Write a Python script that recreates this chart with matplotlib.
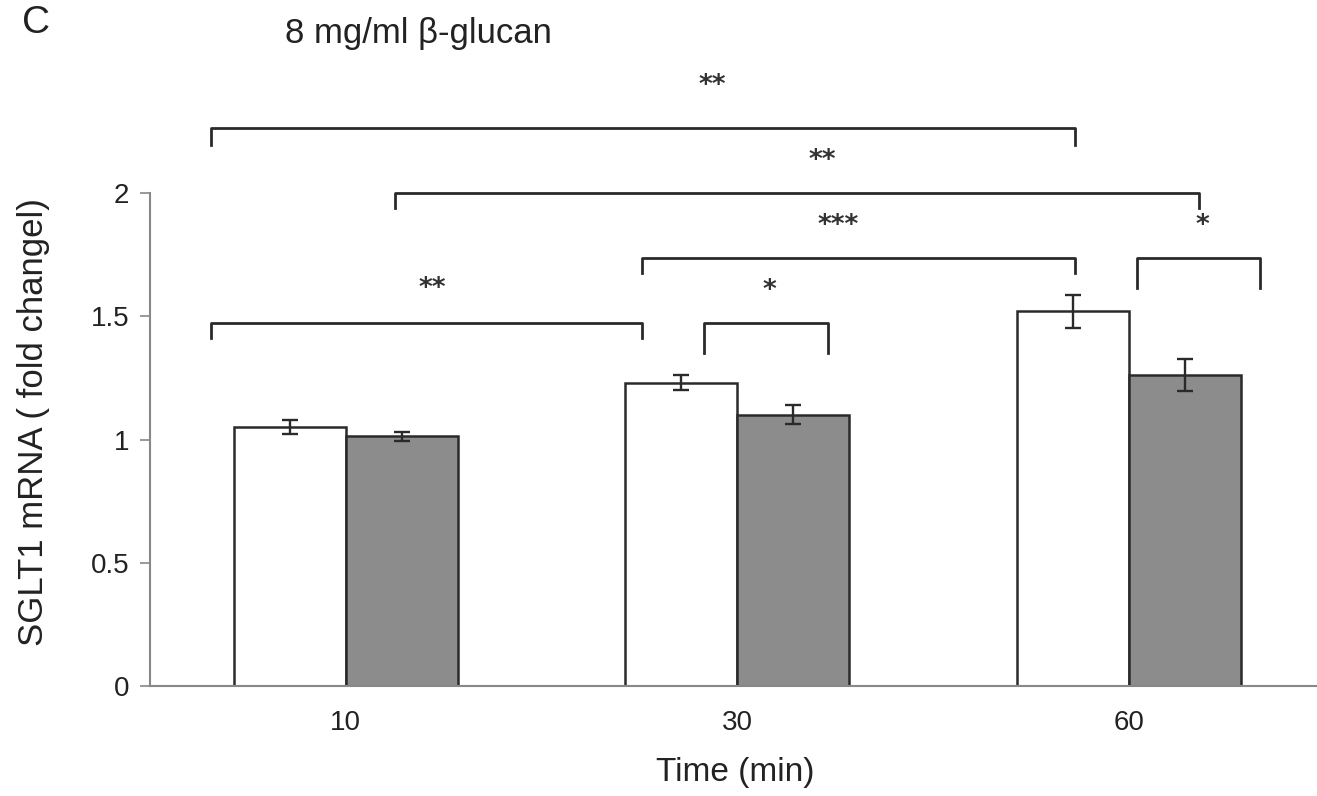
import matplotlib
matplotlib.use("Agg")
import matplotlib.pyplot as plt
import numpy as np

plt.rcParams['font.family'] = ['Liberation Sans', 'DejaVu Sans']

# data
times = ['10', '30', '60']
white_vals = [1.05, 1.23, 1.52]
white_err = [0.028, 0.030, 0.067]
gray_vals = [1.013, 1.10, 1.263]
gray_err = [0.018, 0.038, 0.065]

# significance brackets: (x left, x right, y top, y left end, y right end, label, label x, label y)
brackets = [
    (-0.345, 1.862, 2.262, 2.193, 2.193, '**', 0.935, 2.45),
    (0.127, 2.179, 2.000, 1.940, 1.940, '**', 1.218, 2.146),
    (0.757, 1.862, 1.738, 1.675, 1.675, '***', 1.259, 1.882),
    (2.020, 2.336, 1.738, 1.616, 1.616, '*', 2.189, 1.882),
    (-0.345, 0.757, 1.473, 1.410, 1.410, '**', 0.220, 1.625),
    (0.916, 1.231, 1.473, 1.350, 1.350, '*', 1.083, 1.619),
]

W, H = 1317, 796
fig = plt.figure(figsize=(W/100, H/100), dpi=100)
ax = fig.add_axes([150/W, 1-686/H, 1174.5/W, 493/H])

x = np.arange(len(times))
bw = 0.286
ekw = dict(elinewidth=1.7, capthick=1.7, ecolor='#2a2a2a')
ax.bar(x - bw/2, white_vals, bw, color='white', edgecolor='#2a2a2a', linewidth=1.8,
       yerr=white_err, capsize=5.5, error_kw=ekw, zorder=2)
ax.bar(x + bw/2, gray_vals, bw, color='#8c8c8c', edgecolor='#2a2a2a', linewidth=1.8,
       yerr=gray_err, capsize=5.5, error_kw=ekw, zorder=2)

for (x0, x1, yt, yl, yr, lab, lx, ly) in brackets:
    ax.plot([x0, x0, x1, x1], [yl, yt, yt, yr], color='#2a2a2a', lw=2,
            clip_on=False, solid_joinstyle='round')
    ax.annotate(lab, (lx, ly), xytext=(0, -4), textcoords='offset pixels',
                ha='center', va='center', fontsize=19, color='#333333',
                family='DejaVu Sans', fontweight='bold', annotation_clip=False)

ax.set_xlim(-0.5, 2.5)
ax.set_ylim(0, 2)
ax.set_yticks([0, 0.5, 1, 1.5, 2])
ax.set_yticklabels(['0', '0.5', '1', '1.5', '2'])
ax.set_xticks(x)
ax.set_xticklabels(times)
ax.tick_params(axis='x', length=0, pad=17, labelsize=20, labelcolor='#222222')
ax.tick_params(axis='y', length=7, width=1.2, color='#888888', pad=8,
               labelsize=20, labelcolor='#222222')
for s in ['top', 'right']:
    ax.spines[s].set_visible(False)
for s in ['left', 'bottom']:
    ax.spines[s].set_color('#888888')
    ax.spines[s].set_linewidth(1.5)

fig.text(735/W, 1-773/H, 'Time (min)', fontsize=24, color='#222222',
         ha='center', va='center')
fig.text(34/W, 1-422/H, 'SGLT1 mRNA ( fold changel)', rotation=90, ha='center',
         va='center', fontsize=25, color='#222222')
fig.text(22/W, 1-33/H, 'C', fontsize=28, color='#222222', ha='left', va='baseline')
fig.text(285/W, 1-43/H, '8 mg/ml β-glucan', fontsize=25, color='#222222',
         ha='left', va='baseline')

fig.savefig('out.png', dpi=100)
